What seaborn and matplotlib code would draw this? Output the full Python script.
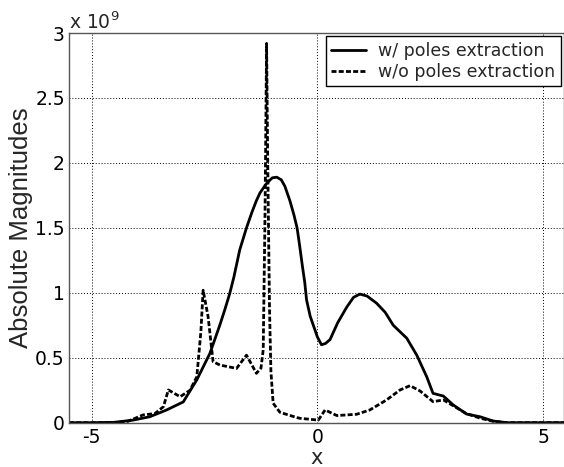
import numpy as np
import pandas as pd
import seaborn as sns
import matplotlib.pyplot as plt

# values (y in units of 1e9)
x_with = [-5.5, -5.0, -4.5, -4.08, -3.71, -3.34, -2.97, -2.67, -2.38, -2.16, -2.05, -1.94,
          -1.85, -1.72, -1.57, -1.45, -1.35, -1.27, -1.13, -1.0, -0.90, -0.80, -0.72, -0.67,
          -0.61, -0.52, -0.45, -0.40, -0.33, -0.28, -0.24, -0.16, -0.09, 0.0, 0.09, 0.18,
          0.28, 0.45, 0.65, 0.80, 0.94, 1.10, 1.31, 1.50, 1.68, 1.98, 2.20, 2.42, 2.56,
          2.79, 3.01, 3.30, 3.60, 3.89, 4.20, 5.0, 5.5]
y_with = [0.0, 0.0, 0.003, 0.02, 0.046, 0.098, 0.16, 0.33, 0.534, 0.752, 0.87, 0.996,
          1.12, 1.33, 1.50, 1.62, 1.71, 1.77, 1.84, 1.885, 1.89, 1.87, 1.82, 1.77,
          1.71, 1.60, 1.50, 1.38, 1.20, 1.08, 0.945, 0.82, 0.75, 0.66, 0.60, 0.61,
          0.64, 0.77, 0.89, 0.965, 0.99, 0.975, 0.92, 0.85, 0.75, 0.65, 0.52, 0.354, 0.226,
          0.205, 0.136, 0.067, 0.046, 0.013, 0.0, 0.0, 0.0]

x_without = [-5.5, -4.5, -4.2, -3.86, -3.6, -3.41, -3.30, -3.04, -2.82, -2.67, -2.58, -2.53,
             -2.42, -2.31, -2.16, -1.79, -1.57, -1.35, -1.25, -1.20, -1.16, -1.125, -1.10,
             -1.06, -1.03, -0.98, -0.83, -0.46, -0.39, 0.02, 0.17, 0.43, 0.87, 1.16, 1.53,
             1.83, 2.05, 2.27, 2.56, 2.79, 3.01, 3.30, 3.60, 3.90, 4.20, 5.5]
y_without = [0.0, 0.0, 0.01, 0.06, 0.07, 0.123, 0.252, 0.20, 0.25, 0.354, 0.70, 1.02,
             0.816, 0.47, 0.444, 0.418, 0.52, 0.38, 0.42, 0.56, 1.60, 2.92, 2.00,
             0.87, 0.40, 0.15, 0.08, 0.04, 0.034, 0.02, 0.098, 0.055, 0.065, 0.098, 0.175,
             0.252, 0.285, 0.245, 0.162, 0.175, 0.13, 0.07, 0.035, 0.01, 0.0, 0.0]

x_ticks = [-5, 0, 5]
y_ticks = [0, 0.5, 1, 1.5, 2, 2.5, 3]
y_tick_labels = ["0", "0.5", "1", "1.5", "2", "2.5", "3"]

df_with = pd.DataFrame({"x": x_with, "y": y_with})
df_without = pd.DataFrame({"x": x_without, "y": y_without})

sns.set_theme(style="white")
plt.rcParams['font.family'] = ['DejaVu Sans']

fig = plt.figure(figsize=(5.64, 4.67), dpi=100)
ax = fig.add_axes([69 / 564, 44.3 / 467, 495 / 564, 389.7 / 467])

sns.lineplot(data=df_with, x="x", y="y", ax=ax, color="black", linewidth=2.0,
             estimator=None, sort=False, label="w/ poles extraction")
sns.lineplot(data=df_without, x="x", y="y", ax=ax, color="black", linewidth=2.0,
             estimator=None, sort=False, label="w/o poles extraction",
             linestyle=(0, (1.8, 0.8)))

ax.set_xlim(-5.5, 5.46)
ax.set_ylim(0, 3)
ax.set_xticks(x_ticks)
ax.set_xticklabels([str(t) for t in x_ticks])
ax.set_yticks(y_ticks)
ax.set_yticklabels(y_tick_labels)
ax.tick_params(labelsize=13.5, colors="black", length=0)
ax.tick_params(axis="x", pad=3.5)
ax.tick_params(axis="y", pad=3)

ax.grid(True, linestyle=(0, (1, 2)), color="black", linewidth=0.7)
for s in ax.spines.values():
    s.set_color("#555555")
    s.set_linewidth(1.0)

ax.set_xlabel("x", fontsize=15, labelpad=1)
ax.set_ylabel("Absolute Magnitudes", fontsize=18.5, family=["Liberation Sans", "DejaVu Sans"])
ax.yaxis.set_label_coords(-0.072, 0.5)
ax.text(0.0, 1.0, r"x 10$^{9}$", transform=ax.transAxes, fontsize=13.5,
        ha="left", va="bottom")

leg = ax.legend(loc="upper right", fontsize=12.5, frameon=True, fancybox=False,
                edgecolor="black", framealpha=1, handlelength=2.0, handletextpad=0.7,
                borderaxespad=0.2, borderpad=0.3, labelspacing=0.2)
leg.get_frame().set_linewidth(1.0)

fig.savefig("out.png", dpi=100, facecolor="white")
